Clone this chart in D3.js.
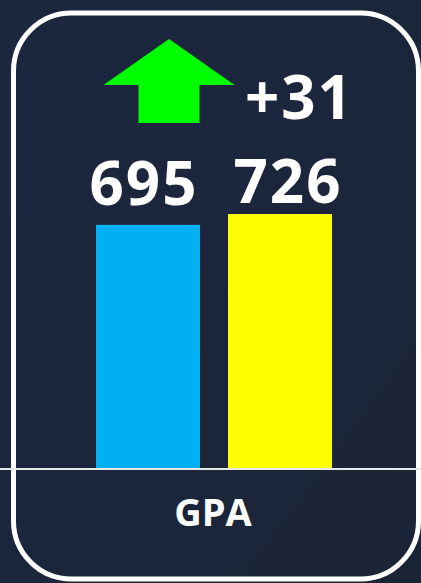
<!DOCTYPE html>
<html>
<head>
<meta charset="utf-8">
<script src="https://cdn.jsdelivr.net/npm/d3@7"></script>
<style>
  html, body { margin: 0; padding: 0; background: #1c2639; }
  svg { display: block; }
</style>
</head>
<body>
<div id="chart"></div>
<script>
// data
var categories = ["Previous", "Current"];
var values = [695, 726];
var barColors = ["#00b0f0", "#ffff00"];
var metric = "GPA";
var change = values[1] - values[0];

var svgWidth = 421;
var svgHeight = 583;
var baseY = 468;

var svg = d3.select("#chart")
  .append("svg")
    .attr("width", svgWidth)
    .attr("height", svgHeight);

// background with a slight gradient
var defs = svg.append("defs");
var grad = defs.append("linearGradient")
  .attr("id", "bg")
  .attr("x1", "0%").attr("y1", "0%")
  .attr("x2", "100%").attr("y2", "100%");
grad.append("stop").attr("offset", "0%").attr("stop-color", "#1c2740");
grad.append("stop").attr("offset", "100%").attr("stop-color", "#1b2436");

svg.append("rect")
  .attr("width", svgWidth)
  .attr("height", svgHeight)
  .attr("fill", "url(#bg)");

// rounded frame
svg.append("rect")
  .attr("x", 13.5)
  .attr("y", 13)
  .attr("width", 405)
  .attr("height", 566)
  .attr("rx", 58)
  .attr("ry", 58)
  .attr("fill", "none")
  .attr("stroke", "#ffffff")
  .attr("stroke-width", 5);

// scales
var xScale = d3.scaleBand()
  .domain(categories)
  .range([96, 332])
  .paddingInner(28 / 132)
  .paddingOuter(0);

var yScale = d3.scaleLinear()
  .domain([0, 726 * 468 / 254])
  .range([baseY, 0]);

// bars
svg.selectAll(".bar")
  .data(values)
  .enter()
  .append("rect")
    .attr("class", "bar")
    .attr("x", (d, i) => xScale(categories[i]))
    .attr("y", d => yScale(d))
    .attr("width", xScale.bandwidth())
    .attr("height", d => baseY - yScale(d))
    .attr("fill", (d, i) => barColors[i]);

// value labels
var labelDx = [-4, 8];
var labelY = [205, 203];
svg.selectAll(".val")
  .data(values)
  .enter()
  .append("text")
    .attr("class", "val")
    .attr("x", (d, i) => xScale(categories[i]) + xScale.bandwidth() / 2 + labelDx[i])
    .attr("y", (d, i) => labelY[i])
    .attr("text-anchor", "middle")
    .style("font-family", "'Open Sans', sans-serif")
    .style("font-weight", "bold")
    .style("font-size", "60px")
    .style("letter-spacing", "2px")
    .attr("fill", "#ffffff")
    .text(d => d);

// baseline
svg.append("line")
  .attr("x1", 0)
  .attr("x2", svgWidth)
  .attr("y1", baseY + 1)
  .attr("y2", baseY + 1)
  .attr("stroke", "#e8e8e8")
  .attr("stroke-width", 2);

// category label
svg.append("text")
  .attr("x", 213)
  .attr("y", 526)
  .attr("text-anchor", "middle")
  .style("font-family", "'Open Sans', sans-serif")
  .style("font-weight", "bold")
  .style("font-size", "38px")
  .attr("fill", "#ffffff")
  .text(metric);

// change arrow
var arrowX = 169, arrowTop = 39, arrowWing = 85, arrowBottom = 123, halfW = 65.5, stemW = 30.5;
var arrowPts = [
  [arrowX, arrowTop], [arrowX + halfW, arrowWing], [arrowX + stemW, arrowWing], [arrowX + stemW, arrowBottom],
  [arrowX - stemW, arrowBottom], [arrowX - stemW, arrowWing], [arrowX - halfW, arrowWing]
];
svg.append("path")
  .attr("d", d3.line()(arrowPts) + "Z")
  .attr("fill", change >= 0 ? "#00ff00" : "#ff0000");

svg.append("text")
  .attr("x", 245)
  .attr("y", 119)
  .style("font-family", "'Open Sans', sans-serif")
  .style("font-weight", "bold")
  .style("font-size", "60px")
  .style("letter-spacing", "2px")
  .attr("fill", "#ffffff")
  .text((change >= 0 ? "+" : "") + change);
</script>
</body>
</html>
